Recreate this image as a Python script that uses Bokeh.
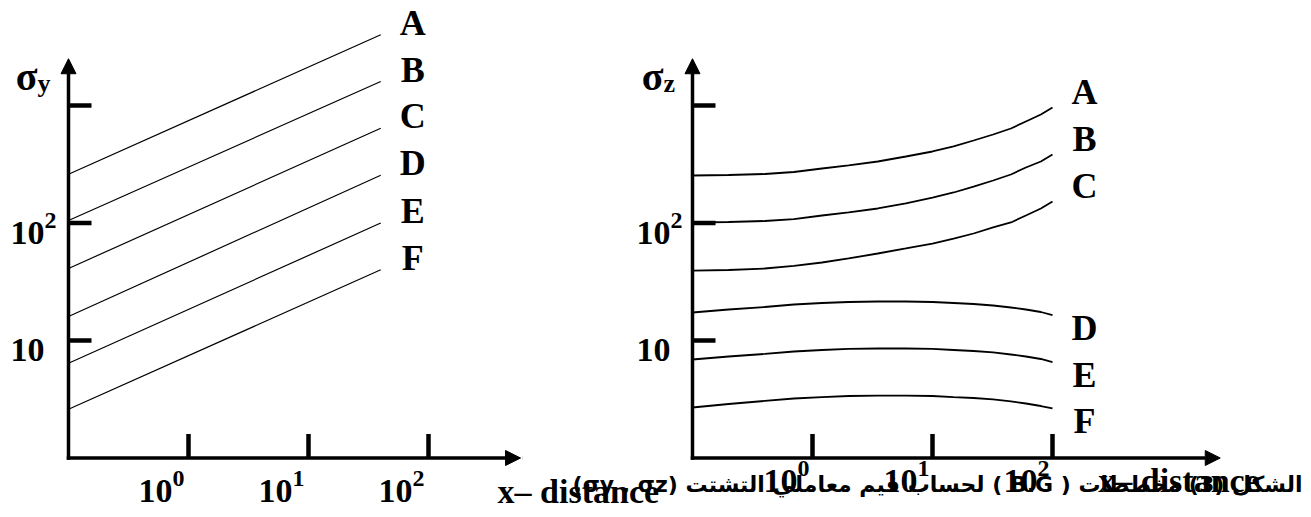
from math import pi
from bokeh.plotting import figure
from bokeh.models import Range1d, LogScale, Arrow, NormalHead, Label
from bokeh.core.properties import value
from bokeh.embed import file_html
from bokeh.resources import INLINE

# ---------------- data ----------------
classes = ["A", "B", "C", "D", "E", "F"]

# sigma_y (left panel): straight lines on log-log axes
left_x = [0.1, 40]
left_A = [260, 4000]
left_B = [105, 1600]
left_C = [41, 640]
left_D = [16, 255]
left_E = [6.4, 100]
left_F = [2.6, 40]

# sigma_z (right panel): curves
right_x = [0.1, 0.2, 0.4, 0.7, 1.2, 2, 3.5, 6, 10, 15, 22, 32, 45, 60, 80, 100]
right_A = [253.7, 256.2, 261.2, 271.6, 290.9, 308.7, 333.8, 368.1, 406.0, 447.9,
           503.7, 566.6, 637.3, 730.9, 838.0, 961.6]
right_B = [101.0, 102.0, 104.0, 108.1, 115.8, 122.9, 132.9, 146.6, 164.8, 181.8,
           204.4, 230.0, 258.7, 296.7, 333.8, 382.8]
right_C = [39.4, 39.8, 41.0, 43.1, 46.1, 49.9, 55.0, 60.7, 66.9, 73.8,
           81.4, 91.6, 101.0, 115.8, 132.9, 152.4]
right_D = [17.31, 18.36, 19.28, 20.25, 20.85, 21.27, 21.47, 21.47, 21.27, 20.85,
           20.45, 19.86, 19.09, 18.36, 17.48, 16.48]
right_E = [6.89, 7.31, 7.68, 8.06, 8.30, 8.47, 8.55, 8.55, 8.47, 8.30,
           8.14, 7.91, 7.60, 7.31, 6.96, 6.56]
right_F = [2.69, 2.88, 3.06, 3.21, 3.30, 3.37, 3.40, 3.40, 3.37, 3.30,
           3.24, 3.15, 3.03, 2.91, 2.77, 2.64]

# axes
axis_origin_x = 0.1
axis_origin_y = 1
left_axis_x_end = 585
right_axis_x_end = 2500
axis_y_end = 2500

y_ticks = [10, 100, 1000]
y_tick_main = ["10", "10", ""]
y_tick_sup = ["", "2", ""]
x_ticks = [1, 10, 100]
x_tick_main = ["10", "10", "10"]
x_tick_sup = ["0", "1", "2"]

x_title = "x\u2013 distance"
left_sym, left_sub = "\u03c3", "y"
right_sym, right_sub = "\u03c3", "z"
caption = "الشكل (3) مخططات ( B.G ) لحساب قيم معاملي التشتت (σy , σz)"

# ---------------- figure ----------------
SERIF = value("Liberation Serif")

p = figure(width=1303, height=509, x_axis_type="log", y_axis_type="log",
           x_range=Range1d(10 ** -1.5667, 10 ** 9.2917),
           y_range=Range1d(10 ** -0.4383, 10 ** 3.8936),
           output_backend="svg", toolbar_location=None, min_border=0,
           x_axis_location=None, y_axis_location=None)
p.outline_line_color = None
p.background_fill_color = "white"
p.border_fill_color = "white"
try:
    p.xgrid.visible = False
    p.ygrid.visible = False
except Exception:
    pass
p.extra_x_ranges = {"r": Range1d(10 ** -6.7667, 10 ** 4.0917)}
p.extra_x_scales = {"r": LogScale()}


def rn(name):
    return {} if name is None else {"x_range_name": name}


def draw_axes(name, x_end):
    for xs, ys, xe, ye in [(axis_origin_x, axis_origin_y, x_end, axis_origin_y),
                           (axis_origin_x, axis_origin_y, axis_origin_x, axis_y_end)]:
        p.add_layout(Arrow(x_start=xs, y_start=ys, x_end=xe, y_end=ye,
                           end=NormalHead(size=15, fill_color="black",
                                          line_color="black", line_width=1),
                           line_width=3.5, line_color="black", line_cap="square",
                           **rn(name)))
    p.ray(x=[axis_origin_x] * len(y_ticks), y=y_ticks, length=23, angle=0,
          length_units="screen", line_width=4.5, line_color="black", **rn(name))
    p.ray(x=x_ticks, y=[axis_origin_y] * len(x_ticks), length=24, angle=pi / 2,
          length_units="screen", line_width=4.5, line_color="black", **rn(name))


def txt(x, y, t, size, align, xo, yo, name=None, font=SERIF):
    p.text(x=x, y=y, text=t, text_font=font, text_font_style="bold",
           text_font_size=size, text_align=align, text_baseline="middle",
           x_offset=xo, y_offset=yo, text_color="black", **rn(name))


def tick_labels(name, xlab_off, xmain_dy, xsup_dy, ylab_off):
    n = len(y_ticks)
    txt([axis_origin_x] * n, y_ticks, y_tick_main, "34px", "right", ylab_off, 10, name)
    txt([axis_origin_x] * n, y_ticks, y_tick_sup, "24px", "left", ylab_off, -2, name)
    m = len(x_ticks)
    txt(x_ticks, [axis_origin_y] * m, x_tick_main, "34px", "right", xlab_off, xmain_dy, name)
    txt(x_ticks, [axis_origin_y] * m, x_tick_sup, "24px", "left", xlab_off, xsup_dy, name)


# ---- left panel ----
draw_axes(None, left_axis_x_end)
tick_labels(None, -16, 33, 21, -24)
left_series = [left_A, left_B, left_C, left_D, left_E, left_F]
for ys in left_series:
    p.line(left_x, ys, line_color="black", line_width=1.2)
txt([left_x[-1]] * 6, [s[-1] for s in left_series], classes, "36px", "center", 32, -12)
txt([axis_origin_x], [axis_y_end], [left_sym], "40px", "right", -31, 18)
txt([axis_origin_x], [axis_y_end], [left_sub], "26px", "left", -31, 25)
txt([left_axis_x_end], [axis_origin_y], [x_title], "34px", "left", -23, 34)

# ---- right panel ----
draw_axes("r", right_axis_x_end)
tick_labels("r", -15, 23, 11, -22)
right_series = [right_A, right_B, right_C, right_D, right_E, right_F]
for ys in right_series:
    p.line(right_x, ys, line_color="black", line_width=1.8, x_range_name="r")
yoffs = [-15, -15, -15, 13, 13, 13]
for c, s, yo in zip(classes, right_series, yoffs):
    txt([right_x[-1]], [s[-1]], [c], "36px", "center", 32, yo, "r")
txt([axis_origin_x], [axis_y_end], [right_sym], "40px", "right", -29, 18, "r")
txt([axis_origin_x], [axis_y_end], [right_sub], "26px", "left", -29, 25, "r")
txt([right_axis_x_end], [axis_origin_y], [x_title], "34px", "left", -122, 23, "r")

# ---- caption (right-to-left paragraph) ----
p.add_layout(Label(x=1302, y=25, x_units="screen", y_units="screen",
                   text="\u202B" + caption + "\u202C",
                   text_font="DejaVu Sans", text_font_style="bold",
                   text_font_size="22px", text_align="right",
                   text_baseline="alphabetic", text_color="black"))

open("out.html", "w").write(file_html(p, INLINE))
